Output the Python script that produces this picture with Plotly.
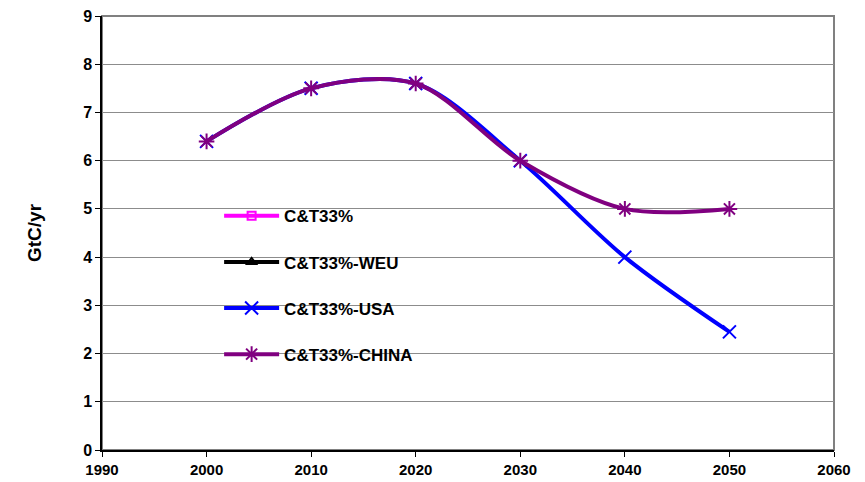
import plotly.graph_objects as go

years = [2000, 2010, 2020, 2030, 2040, 2050]
ct33 = [None, None, None, None, None, None]
ct33_weu = [None, None, None, None, None, None]
ct33_usa = [6.4, 7.5, 7.6, 6.0, 4.0, 2.45]
ct33_china = [6.4, 7.5, 7.6, 6.0, 5.0, 5.0]

x_ticks = [1990, 2000, 2010, 2020, 2030, 2040, 2050, 2060]
y_ticks = list(range(0, 10))

FONT = "Liberation Sans, Arial, sans-serif"

fig = go.Figure()
series = [
    ("C&T33%", ct33, "#FF00FF", "square-open", 8),
    ("C&T33%-WEU", ct33_weu, "#000000", "triangle-up-open", 8),
    ("C&T33%-USA", ct33_usa, "#0000FF", "x-thin-open", 13),
    ("C&T33%-CHINA", ct33_china, "#800080", "asterisk-open", 13),
]
for i, (name, vals, col, sym, sz) in enumerate(series):
    fig.add_trace(go.Scatter(
        x=years, y=vals, name=name, mode="lines+markers",
        line=dict(color=col, width=4, shape="spline", smoothing=0.9),
        marker=dict(symbol=sym, size=sz, color=col, line=dict(color=col, width=2)),
        legendgroup=f"g{i}",
    ))

fig.add_shape(type="rect", xref="paper", yref="paper", x0=0, x1=1, y0=0, y1=1,
              line=dict(color="#808080", width=2), layer="below")

fig.update_layout(
    width=865, height=482,
    margin=dict(l=102, r=31, t=16, b=32),
    paper_bgcolor="white", plot_bgcolor="white",
    font=dict(family=FONT, color="black"),
    showlegend=True,
    legend=dict(x=0.16, y=0.58, xanchor="left", yanchor="top",
                bgcolor="rgba(0,0,0,0)", tracegroupgap=21, itemwidth=55,
                font=dict(size=17, family=FONT, weight="bold"),
                traceorder="grouped"),
    xaxis=dict(range=[1990, 2060], tickvals=x_ticks, showgrid=False,
               showline=True, linecolor="black", linewidth=1.5,
               ticks="outside", ticklen=5, tickcolor="black",
               tickfont=dict(size=15, family=FONT, weight="bold"),
               tickformat="d", zeroline=False, automargin=False),
    yaxis=dict(range=[0, 9], tickvals=y_ticks, showgrid=True, gridcolor="#8c8c8c", gridwidth=1,
               showline=True, linecolor="black", linewidth=1.5,
               ticks="outside", ticklen=5, tickcolor="black",
               tickfont=dict(size=16, family=FONT, weight="bold"),
               title=dict(text="GtC/yr", font=dict(size=19, family=FONT, weight="bold"), standoff=36),
               zeroline=False, automargin=False),
)

fig.write_html("out.html", config={"displayModeBar": False},
               post_script="document.body.style.margin='0';document.body.style.overflow='hidden';")
